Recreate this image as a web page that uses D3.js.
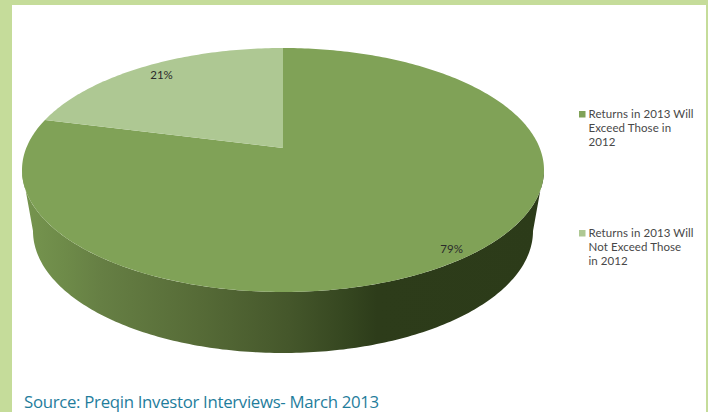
<!DOCTYPE html>
<html>
<head>
<meta charset="utf-8">
<script src="https://cdnjs.cloudflare.com/ajax/libs/d3/7.8.5/d3.min.js"></script>
<style>
    html, body { margin: 0; padding: 0; background: #fff; overflow: hidden; }
    svg { display: block; }
    .legend-text, .pie-label { font-family: "Lato", sans-serif; fill: #484848; }
    .legend-text { font-size: 11.5px; letter-spacing: 0.08px; }
    .pie-label { font-size: 11.5px; fill: #2b2b2b; }
    .source { font-family: "Open Sans", sans-serif; font-size: 16.8px; letter-spacing: -0.3px; fill: #1f7d9c; }
</style>
</head>
<body>
<div id="chart"></div>
<script>
// Data
var categories = ["Returns in 2013 Will Exceed Those in 2012", "Returns in 2013 Will Not Exceed Those in 2012"];
var shares = [79, 21];
var sliceColors = ["#80a257", "#aec893"];
var legendLines = [
    ["Returns in 2013 Will", "Exceed Those in", "2012"],
    ["Returns in 2013 Will", "Not Exceed Those", "in 2012"]
];
var sourceText = "Source: Preqin Investor Interviews- March 2013";

var width = 708, height = 412;
var frameColor = "#c5dc9a";

var svg = d3.select("#chart").append("svg")
    .attr("width", width)
    .attr("height", height);

// Page frame
svg.append("rect").attr("width", width).attr("height", height).attr("fill", frameColor);
svg.append("rect").attr("x", 12).attr("y", 5).attr("width", 694).attr("height", height).attr("fill", "#fff");

// Pie disc is a perspective view: top ellipse, smaller bottom ellipse
var top_e = { cx: 283, cy: 170, rx: 261, ry: 122 };
var bot_e = { cx: 283, cy: 231, rx: 250, ry: 122 };
var k = -0.18; // moves the pie centre up the ellipse, as in the picture

// Scales from unit circle to the ellipse
var xScale = d3.scaleLinear().domain([-1, 1]).range([top_e.cx - top_e.rx, top_e.cx + top_e.rx]);
var yScale = d3.scaleLinear().domain([-1, 1]).range([top_e.cy - top_e.ry, top_e.cy + top_e.ry]);

function project(angle, r) {
    var u = r * Math.sin(angle), v = -r * Math.cos(angle);
    var w = 1 + k * v;
    return [xScale(u * Math.sqrt(1 - k * k) / w), yScale((v + k) / w)];
}

var line = d3.line();

// Side wall, dark towards the right
var defs = svg.append("defs");
var wallGrad = defs.append("linearGradient")
    .attr("id", "wall")
    .attr("gradientUnits", "userSpaceOnUse")
    .attr("x1", top_e.cx - top_e.rx).attr("x2", top_e.cx + top_e.rx)
    .attr("y1", 0).attr("y2", 0);
[[0, "#76954f"], [0.08, "#6e8b49"], [0.15, "#667f44"], [0.34, "#566b37"], [0.51, "#45572b"], [0.63, "#34451f"], [0.68, "#2d3c1a"], [1, "#2c3b19"]]
    .forEach(function(s) {
        wallGrad.append("stop").attr("offset", s[0]).attr("stop-color", s[1]);
    });

var wallPts = [];
d3.range(0, 181).forEach(function(i) {
    var a = Math.PI * i / 180;
    wallPts.push([top_e.cx + top_e.rx * Math.cos(a), top_e.cy + top_e.ry * Math.sin(a)]);
});
d3.range(180, -1, -1).forEach(function(i) {
    var a = Math.PI * i / 180;
    wallPts.push([bot_e.cx + bot_e.rx * Math.cos(a), bot_e.cy + bot_e.ry * Math.sin(a)]);
});
svg.append("path")
    .attr("d", line(wallPts) + "Z")
    .attr("fill", "url(#wall)");

// Top face slices
var pie = d3.pie().sort(null).value(function(d) { return d; });
var arcs = pie(shares);

svg.selectAll(".slice")
    .data(arcs)
    .enter()
    .append("path")
    .attr("class", "slice")
    .attr("d", function(d) {
        var pts = [project(0, 0)];
        var n = Math.ceil((d.endAngle - d.startAngle) * 60);
        d3.range(n + 1).forEach(function(i) {
            pts.push(project(d.startAngle + (d.endAngle - d.startAngle) * i / n, 1));
        });
        return line(pts) + "Z";
    })
    .attr("fill", function(d, i) { return sliceColors[i]; });

// Percent labels
svg.selectAll(".pie-label")
    .data(arcs)
    .enter()
    .append("text")
    .attr("class", "pie-label")
    .attr("text-anchor", "middle")
    .attr("x", function(d, i) { return project((d.startAngle + d.endAngle) / 2, i === 0 ? 0.93 : 0.78)[0] + (i === 0 ? 0 : -11); })
    .attr("y", function(d, i) { return project((d.startAngle + d.endAngle) / 2, i === 0 ? 0.93 : 0.78)[1] + (i === 0 ? 5 : -4); })
    .text(function(d) { return d.value + "%"; });

// Legend
var legendY = d3.scalePoint().domain(categories).range([111, 230]);
var legend = svg.selectAll(".legend")
    .data(categories)
    .enter()
    .append("g")
    .attr("class", "legend")
    .attr("transform", function(d) { return "translate(579," + legendY(d) + ")"; });

legend.append("rect")
    .attr("width", 6.5)
    .attr("height", 6.5)
    .attr("fill", function(d, i) { return sliceColors[i]; });

legend.each(function(d, i) {
    d3.select(this).selectAll("text")
        .data(legendLines[i])
        .enter()
        .append("text")
        .attr("class", "legend-text")
        .attr("x", 9.5)
        .attr("y", function(t, j) { return 7 + j * 14; })
        .text(function(t) { return t; });
});

// Source note
svg.append("text")
    .attr("class", "source")
    .attr("x", 24)
    .attr("y", 408)
    .text(sourceText);
</script>
</body>
</html>
